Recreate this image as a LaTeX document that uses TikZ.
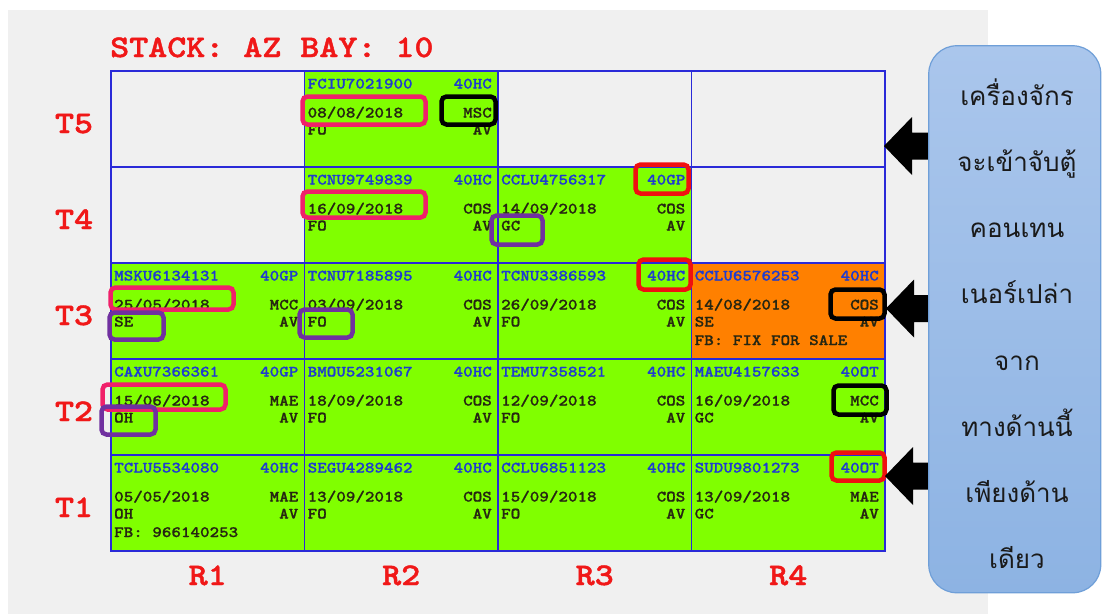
\documentclass[tikz,border=0pt]{standalone}
\usepackage{fontspec}
\newfontfamily\cour{lmmonolt10-bold.otf}[FakeStretch=1.15,FakeBold=0.9]
\newfontfamily\courbig{lmmonolt10-bold.otf}[FakeStretch=1.15,FakeBold=1.4]
\newfontfamily\thaifont[Script=Thai]{Loma}
\definecolor{bggray}{HTML}{F0F0F0}
\definecolor{gridblue}{HTML}{2A2AD8}
\definecolor{lime}{HTML}{80FF00}
\definecolor{boxorange}{HTML}{FF8000}
\definecolor{idblue}{HTML}{1E3CD0}
\definecolor{darktxt}{HTML}{262612}
\definecolor{labred}{HTML}{F01818}
\definecolor{hlpink}{HTML}{F0206A}
\definecolor{hlred}{HTML}{F01010}
\definecolor{hlpurple}{HTML}{7030A0}
\definecolor{paneltop}{HTML}{AAC6EC}
\definecolor{panelbot}{HTML}{8DB3E3}
\definecolor{panelline}{HTML}{6F9FD8}
\definecolor{thaitxt}{HTML}{1A1A1A}

% one container slot: cell name, id, size, date, operator, location
\newcommand\slotinfo[6]{%
  \node[idtxt,anchor=base west] (#1-id) at ([xshift=3pt,yshift=-17.5pt]#1.north west) {#2};
  \node[idtxt,anchor=base east] (#1-sz) at ([xshift=-6pt,yshift=-17.5pt]#1.north east) {#3};
  \node[dktxt,anchor=base west] (#1-dt) at ([xshift=3pt,yshift=-46.5pt]#1.north west) {#4};
  \node[dktxt,anchor=base east] (#1-op) at ([xshift=-6pt,yshift=-46.5pt]#1.north east) {#5};
  \node[dktxt,anchor=base west] (#1-lc) at ([xshift=3pt,yshift=-63.5pt]#1.north west) {#6};
  \node[dktxt,anchor=base east] (#1-st) at ([xshift=-6pt,yshift=-63.5pt]#1.north east) {AV};
}
% black block arrow pointing left, tip at (#1,#2)
\newcommand\blockarrow[2]{%
  \fill[black] (#1,#2) -- ++(28,-29) -- ++(0,15.5) -- ++(20,0) -- ++(0,27)
    -- ++(-20,0) -- ++(0,15.5) -- cycle;
}

\begin{document}
\begin{tikzpicture}[x=1pt,y=-1pt,
  cell/.style={draw=gridblue,line width=1.4pt,minimum width=193.5pt,
    minimum height=96pt,inner sep=0pt,outer sep=0pt},
  idtxt/.style={font=\cour\fontsize{15.8}{16}\selectfont,text=idblue,inner sep=0pt},
  dktxt/.style={font=\cour\fontsize{15.8}{16}\selectfont,text=darktxt,inner sep=0pt},
  big/.style={font=\courbig\fontsize{31.5}{32}\selectfont,text=labred,inner sep=0pt},
  hl/.style={line width=4.5pt,rounded corners=5pt},
  thai/.style={font=\thaifont\fontsize{26}{30}\selectfont,text=thaitxt,
    anchor=base,inner sep=0pt}]

\useasboundingbox (0,0) rectangle (1102,614);
\fill[white] (0,0) rectangle (1102,614);
\fill[bggray] (8,10) rectangle (988,614);

% title
\node[big,anchor=base west] (title) at (110,57) {STACK: AZ BAY: 10};

% tier T5
\node[cell,fill=bggray] (e51) at (207.75,119) {};
\node[cell,fill=lime]   (c52) at (401.25,119) {};
\node[cell,fill=bggray] (e53) at (594.75,119) {};
\node[cell,fill=bggray] (e54) at (788.25,119) {};
% tier T4
\node[cell,fill=bggray] (e41) at (207.75,215) {};
\node[cell,fill=lime]   (c42) at (401.25,215) {};
\node[cell,fill=lime]   (c43) at (594.75,215) {};
\node[cell,fill=bggray] (e44) at (788.25,215) {};
% tier T3
\node[cell,fill=lime]      (c31) at (207.75,311) {};
\node[cell,fill=lime]      (c32) at (401.25,311) {};
\node[cell,fill=lime]      (c33) at (594.75,311) {};
\node[cell,fill=boxorange] (c34) at (788.25,311) {};
% tier T2
\node[cell,fill=lime] (c21) at (207.75,407) {};
\node[cell,fill=lime] (c22) at (401.25,407) {};
\node[cell,fill=lime] (c23) at (594.75,407) {};
\node[cell,fill=lime] (c24) at (788.25,407) {};
% tier T1
\node[cell,fill=lime] (c11) at (207.75,503) {};
\node[cell,fill=lime] (c12) at (401.25,503) {};
\node[cell,fill=lime] (c13) at (594.75,503) {};
\node[cell,fill=lime] (c14) at (788.25,503) {};

% container data
\slotinfo{c52}{FCIU7021900}{40HC}{08/08/2018}{MSC}{FO}
\slotinfo{c42}{TCNU9749839}{40HC}{16/09/2018}{COS}{FO}
\slotinfo{c43}{CCLU4756317}{40GP}{14/09/2018}{COS}{GC}
\slotinfo{c31}{MSKU6134131}{40GP}{25/05/2018}{MCC}{SE}
\slotinfo{c32}{TCNU7185895}{40HC}{03/09/2018}{COS}{FO}
\slotinfo{c33}{TCNU3386593}{40HC}{26/09/2018}{COS}{FO}
\slotinfo{c34}{CCLU6576253}{40HC}{14/08/2018}{COS}{SE}
\slotinfo{c21}{CAXU7366361}{40GP}{15/06/2018}{MAE}{OH}
\slotinfo{c22}{BMOU5231067}{40HC}{18/09/2018}{COS}{FO}
\slotinfo{c23}{TEMU7358521}{40HC}{12/09/2018}{COS}{FO}
\slotinfo{c24}{MAEU4157633}{40OT}{16/09/2018}{MCC}{GC}
\slotinfo{c11}{TCLU5534080}{40HC}{05/05/2018}{MAE}{OH}
\slotinfo{c12}{SEGU4289462}{40HC}{13/09/2018}{COS}{FO}
\slotinfo{c13}{CCLU6851123}{40HC}{15/09/2018}{COS}{FO}
\slotinfo{c14}{SUDU9801273}{40OT}{13/09/2018}{MAE}{GC}
\node[dktxt,anchor=base west] (c34-fb) at ([xshift=3pt,yshift=-82pt]c34.north west) {FB: FIX FOR SALE};
\node[dktxt,anchor=base west] (c11-fb) at ([xshift=3pt,yshift=-82pt]c11.north west) {FB: 966140253};

% tier labels
\node[big,anchor=base] (t5) at (74,133) {T5};
\node[big,anchor=base] (t4) at (74,229) {T4};
\node[big,anchor=base] (t3) at (74,325) {T3};
\node[big,anchor=base] (t2) at (74,421) {T2};
\node[big,anchor=base] (t1) at (74,517) {T1};
% row labels
\node[big,anchor=base] (r1) at (207.75,585) {R1};
\node[big,anchor=base] (r2) at (401.25,585) {R2};
\node[big,anchor=base] (r3) at (594.75,585) {R3};
\node[big,anchor=base] (r4) at (788.25,585) {R4};

% highlight frames
\draw[hl,hlpink] (302.5,96.5) rectangle (425.5,124.5);
\draw[hl,black]  (441.5,96.5) rectangle (495.5,124.5);
\draw[hl,hlpink] (302.5,191.5) rectangle (425.5,217.5);
\draw[hl,hlpurple] (491.5,215.5) rectangle (542.5,244.5);
\draw[hl,hlred] (635.5,164.5) rectangle (688.5,193.5);
\draw[hl,hlred] (638.5,259.5) rectangle (690.5,289.5);
\draw[hl,black] (830.5,289.5) rectangle (884.5,318.5);
\draw[hl,hlpink] (110.5,287.5) rectangle (233.5,309.5);
\draw[hl,hlpurple] (109.5,312.5) rectangle (163.5,339.5);
\draw[hl,hlpurple] (299.5,309.5) rectangle (352.5,337.5);
\draw[hl,hlpink] (102.5,384.5) rectangle (225.5,409.5);
\draw[hl,hlpurple] (101.5,406.5) rectangle (155.5,434.5);
\draw[hl,black] (833.5,385.5) rectangle (886.5,414.5);
\draw[hl,hlred] (831.5,452.5) rectangle (884.5,480.5);

% arrows toward the bay
\blockarrow{884}{146}
\blockarrow{886}{308.5}
\blockarrow{885}{476}

% note panel
\node[draw=panelline,line width=1.2pt,rounded corners=28pt,top color=paneltop,
  bottom color=panelbot,minimum width=172pt,minimum height=547pt,inner sep=0pt]
  (panel) at (1014.75,319.25) {};
\node[thai] (n1) at (1017,105) {เครื่องจักร};
\node[thai] (n2) at (1017,171) {จะเข้าจับตู้};
\node[thai] (n3) at (1017,237) {คอนเทน};
\node[thai] (n4) at (1017,303.5) {เนอร์เปล่า};
\node[thai] (n5) at (1017,370) {จาก};
\node[thai] (n6) at (1017,436) {ทางด้านนี้};
\node[thai] (n7) at (1017,502) {เพียงด้าน};
\node[thai] (n8) at (1017,568) {เดียว};
\end{tikzpicture}
\end{document}
